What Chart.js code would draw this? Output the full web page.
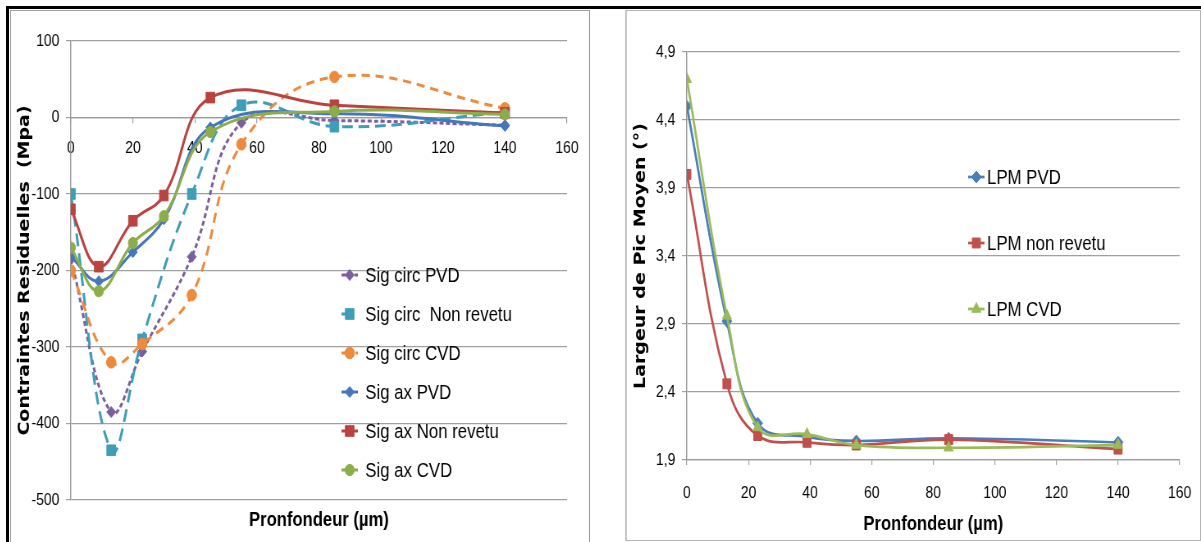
<!DOCTYPE html>
<html>
<head>
<meta charset="utf-8">
<title>Contraintes residuelles et largeur de pic moyen</title>
<script src="https://cdn.jsdelivr.net/npm/chart.js@4.4.1/dist/chart.umd.min.js"></script>
<style>
html, body { margin:0; padding:0; background:#fff; }
body { position:relative; width:1201px; height:542px; overflow:hidden; }
.blk-top { position:absolute; left:6px; top:6px; width:1195px; height:3px; background:#000; }
.blk-left { position:absolute; left:6px; top:6px; width:3px; height:536px; background:#000; }
#panelL { position:absolute; box-sizing:border-box; left:10px; top:10px; width:580px; height:540px;
  border-top:1px solid #a0a0a0; border-left:1px solid #a0a0a0; border-right:1px solid #9a9a9a; }
#panelR { position:absolute; box-sizing:border-box; left:625px; top:10px; width:576px; height:531px;
  border:1px solid #b4b4b4; border-left:2px solid #c8c8c8; }
/* the original Excel charts are squeezed horizontally (~0.82) */
#cL { position:absolute; left:11px; top:11px; transform:scaleX(0.82); transform-origin:0 0; }
#cR { position:absolute; left:627px; top:11px; transform:scaleX(0.82); transform-origin:0 0; }
</style>
</head>
<body>
<div class="blk-top"></div>
<div class="blk-left"></div>
<div id="panelL"></div>
<div id="panelR"></div>
<canvas id="cL" width="705" height="531"></canvas>
<canvas id="cR" width="698" height="529"></canvas>
<script>
// ---------- data: left chart (contraintes residuelles) ----------
const depthCirc = [0, 13, 23, 39, 55, 85, 140];
const depthAx   = [0, 9, 20, 30, 45, 85, 140];
const sigCircPVD       = [-185, -385, -306, -182, -7, -4, -10];
const sigCircNonRevetu = [-100, -435, -290, -100, 16, -12, 7];
const sigCircCVD       = [-200, -320, -296, -232, -35, 53, 12];
const sigAxPVD         = [-182, -214, -176, -133, -13, 5, -11];
const sigAxNonRevetu   = [-120, -195, -135, -102, 26, 16, 6];
const sigAxCVD         = [-170, -227, -164, -129, -19, 8, 4];
const stressTicks = [-500, -400, -300, -200, -100, 0, 100];
const depthTicks  = [0, 20, 40, 60, 80, 100, 120, 140, 160];
const leftNames = ['Sig circ PVD', 'Sig circ  Non revetu', 'Sig circ CVD', 'Sig ax PVD', 'Sig ax Non revetu', 'Sig ax CVD'];

// ---------- data: right chart (largeur de pic moyen) ----------
const depthLPM = [0, 13, 23, 39, 55, 85, 140];
const lpmPVD        = [4.50, 2.92, 2.17, 2.07, 2.04, 2.06, 2.03];
const lpmNonRevetu  = [4.00, 2.46, 2.08, 2.03, 2.01, 2.05, 1.98];
const lpmCVD        = [4.70, 2.96, 2.14, 2.09, 2.01, 1.99, 2.01];
const lpmTicks = [1.9, 2.4, 2.9, 3.4, 3.9, 4.4, 4.9];
const rightNames = ['LPM PVD', 'LPM non revetu', 'LPM CVD'];

// ---------- styles ----------
const SANS = "'Liberation Sans', Arial, sans-serif";
const leftStyles = [
  {color:'#7B5EA0', dash:[5,3],  marker:'rectRot', r:5.5},
  {color:'#3E9DB8', dash:[13,7], marker:'rect',    r:7.5},
  {color:'#EE8A3C', dash:[10,7], marker:'circle',  r:5.8},
  {color:'#4677BB', dash:[],     marker:'rectRot', r:5.5},
  {color:'#BA4340', dash:[],     marker:'rect',    r:7.5},
  {color:'#8BAE4A', dash:[],     marker:'circle',  r:5.6}
];
const rightStyles = [
  {color:'#4A7EBB', dash:[], marker:'rectRot',  r:6},
  {color:'#C0504D', dash:[], marker:'rect',     r:7},
  {color:'#9BBB59', dash:[], marker:'triangle', r:6.5}
];

const pts = (xs, ys) => xs.map((x, i) => ({x: x, y: ys[i]}));

function makeDataset(label, data, st, width, order) {
  return {
    label: label, data: data, order: order,
    borderColor: st.color, backgroundColor: st.color, borderWidth: width,
    borderDash: st.dash, tension: 0.4, fill: false,
    pointStyle: st.marker, pointRadius: st.r, pointHoverRadius: st.r,
    pointBackgroundColor: st.color, pointBorderColor: st.color, pointBorderWidth: 1
  };
}

function drawMarker(ctx, style, x, y, r, color) {
  ctx.save();
  ctx.fillStyle = color; ctx.strokeStyle = color; ctx.lineWidth = 1; ctx.setLineDash([]);
  ctx.beginPath();
  if (style === 'rectRot') {
    ctx.moveTo(x, y - r); ctx.lineTo(x + r, y); ctx.lineTo(x, y + r); ctx.lineTo(x - r, y); ctx.closePath();
  } else if (style === 'rect') {
    const s = r * Math.SQRT1_2; ctx.rect(x - s, y - s, 2 * s, 2 * s);
  } else if (style === 'triangle') {
    let a = 0;
    ctx.moveTo(x + Math.sin(a) * r, y - Math.cos(a) * r);
    a += 2 * Math.PI / 3; ctx.lineTo(x + Math.sin(a) * r, y - Math.cos(a) * r);
    a += 2 * Math.PI / 3; ctx.lineTo(x + Math.sin(a) * r, y - Math.cos(a) * r);
    ctx.closePath();
  } else {
    ctx.arc(x, y, r, 0, Math.PI * 2);
  }
  ctx.fill(); ctx.stroke();
  ctx.restore();
}

// custom legend + axis titles (Excel-like placement)
const decorPlugin = {
  id: 'decor',
  afterDraw(chart, args, o) {
    const ctx = chart.ctx, ca = chart.chartArea;
    chart.data.datasets.forEach((ds, i) => {
      const y = ca.top + o.legTop + i * o.legStep;
      const x0 = ca.left + o.legLeft;
      ctx.save();
      ctx.strokeStyle = ds.borderColor; ctx.lineWidth = ds.borderWidth;
      ctx.setLineDash(ds.borderDash || []);
      ctx.beginPath(); ctx.moveTo(x0, y); ctx.lineTo(x0 + o.legLine, y); ctx.stroke();
      ctx.restore();
      drawMarker(ctx, ds.pointStyle, x0 + o.legLine / 2, y, ds.pointRadius, ds.borderColor);
      ctx.save();
      ctx.fillStyle = '#000'; ctx.font = o.legFont;
      ctx.textAlign = 'left'; ctx.textBaseline = 'middle';
      ctx.fillText(ds.label, x0 + o.legLine + o.legGap, y + 1);
      ctx.restore();
    });
    ctx.save();
    ctx.fillStyle = '#000'; ctx.font = o.xFont;
    ctx.textAlign = 'center'; ctx.textBaseline = 'middle';
    ctx.fillText(o.xTitle, (ca.left + ca.right) / 2, ca.bottom + o.xTitleOff);
    ctx.restore();
    ctx.save();
    ctx.translate(o.yTitleX, (ca.top + ca.bottom) / 2);
    ctx.rotate(-Math.PI / 2);
    ctx.fillStyle = '#000'; ctx.font = o.yFont;
    ctx.textAlign = 'center'; ctx.textBaseline = 'middle';
    ctx.fillText(o.yTitle, 0, 0);
    ctx.restore();
  }
};

const tickFont = {family: SANS, size: 17};
const gridGray = '#a0a0a0';
const noSidePad = s => { s.paddingLeft = 0; s.paddingRight = 0; };

// ---------- left chart ----------
const leftSeries = [sigCircPVD, sigCircNonRevetu, sigCircCVD, sigAxPVD, sigAxNonRevetu, sigAxCVD];
const leftDepths = [depthCirc, depthCirc, depthCirc, depthAx, depthAx, depthAx];
new Chart(document.getElementById('cL'), {
  type: 'line',
  data: {
    datasets: leftSeries.map((ys, i) =>
      makeDataset(leftNames[i], pts(leftDepths[i], ys), leftStyles[i], 3, leftSeries.length - i))
  },
  options: {
    responsive: false, animation: false, devicePixelRatio: 1,
    layout: {padding: {left: 0, right: 27, top: 30, bottom: 42}},
    plugins: {
      legend: {display: false}, tooltip: {enabled: false},
      decor: {
        legTop: 234, legStep: 39, legLeft: 330, legLine: 20, legGap: 9,
        legFont: "20.5px " + SANS,
        xTitle: 'Pronfondeur (\u00b5m)', xFont: "bold 20.3px " + SANS, xTitleOff: 20,
        yTitle: 'Contraintes Residuelles  (Mpa)', yFont: "bold 19px 'DejaVu Sans', sans-serif", yTitleX: 17
      }
    },
    scales: {
      x: {
        type: 'linear', min: 0, max: 160, position: {y: 0},
        afterBuildTicks: s => { s.ticks = depthTicks.map(v => ({value: v})); },
        afterFit: noSidePad,
        ticks: {font: tickFont, color: '#000', padding: 16, maxRotation: 0, autoSkip: false},
        grid: {drawOnChartArea: false, drawTicks: true, tickLength: 5, color: gridGray, lineWidth: 1.2},
        border: {color: '#9a9a9a', width: 1.2}
      },
      y: {
        type: 'linear', min: -500, max: 100,
        afterBuildTicks: s => { s.ticks = stressTicks.map(v => ({value: v})); },
        afterFit: s => { s.width = 73; },
        ticks: {font: tickFont, color: '#000', padding: 8},
        grid: {color: gridGray, lineWidth: 1.2, tickLength: 6},
        border: {color: '#9a9a9a', width: 1.4}
      }
    }
  },
  plugins: [decorPlugin]
});

// ---------- right chart ----------
const rightSeries = [lpmPVD, lpmNonRevetu, lpmCVD];
new Chart(document.getElementById('cR'), {
  type: 'line',
  data: {
    datasets: rightSeries.map((ys, i) =>
      makeDataset(rightNames[i], pts(depthLPM, ys), rightStyles[i], 2.7, rightSeries.length - i))
  },
  options: {
    responsive: false, animation: false, devicePixelRatio: 1,
    layout: {padding: {left: 0, right: 24, top: 41, bottom: 0}},
    plugins: {
      legend: {display: false}, tooltip: {enabled: false},
      decor: {
        legTop: 125, legStep: 66, legLeft: 343, legLine: 20, legGap: 3,
        legFont: "20.5px " + SANS,
        xTitle: 'Pronfondeur (\u00b5m)', xFont: "bold 20.3px " + SANS, xTitleOff: 64,
        yTitle: 'Largeur de Pic Moyen (\u00b0)', yFont: "bold 19px 'DejaVu Sans', sans-serif", yTitleX: 17.5
      }
    },
    scales: {
      x: {
        type: 'linear', min: 0, max: 160, position: 'bottom',
        afterBuildTicks: s => { s.ticks = depthTicks.map(v => ({value: v})); },
        afterFit: s => { s.height = 80; s.paddingLeft = 0; s.paddingRight = 0; },
        ticks: {font: tickFont, color: '#000', padding: 18, maxRotation: 0, autoSkip: false},
        grid: {drawOnChartArea: false, drawTicks: true, tickLength: 5, color: gridGray, lineWidth: 1.2},
        border: {color: '#9a9a9a', width: 1.2}
      },
      y: {
        type: 'linear', min: 1.9, max: 4.9,
        afterBuildTicks: s => { s.ticks = lpmTicks.map(v => ({value: v})); },
        afterFit: s => { s.width = 73; },
        ticks: {font: tickFont, color: '#000', padding: 8,
          callback: v => Number(v).toFixed(1).replace('.', ',')},
        grid: {color: gridGray, lineWidth: 1.2, tickLength: 6},
        border: {color: '#9a9a9a', width: 1.4}
      }
    }
  },
  plugins: [decorPlugin]
});
</script>
</body>
</html>
